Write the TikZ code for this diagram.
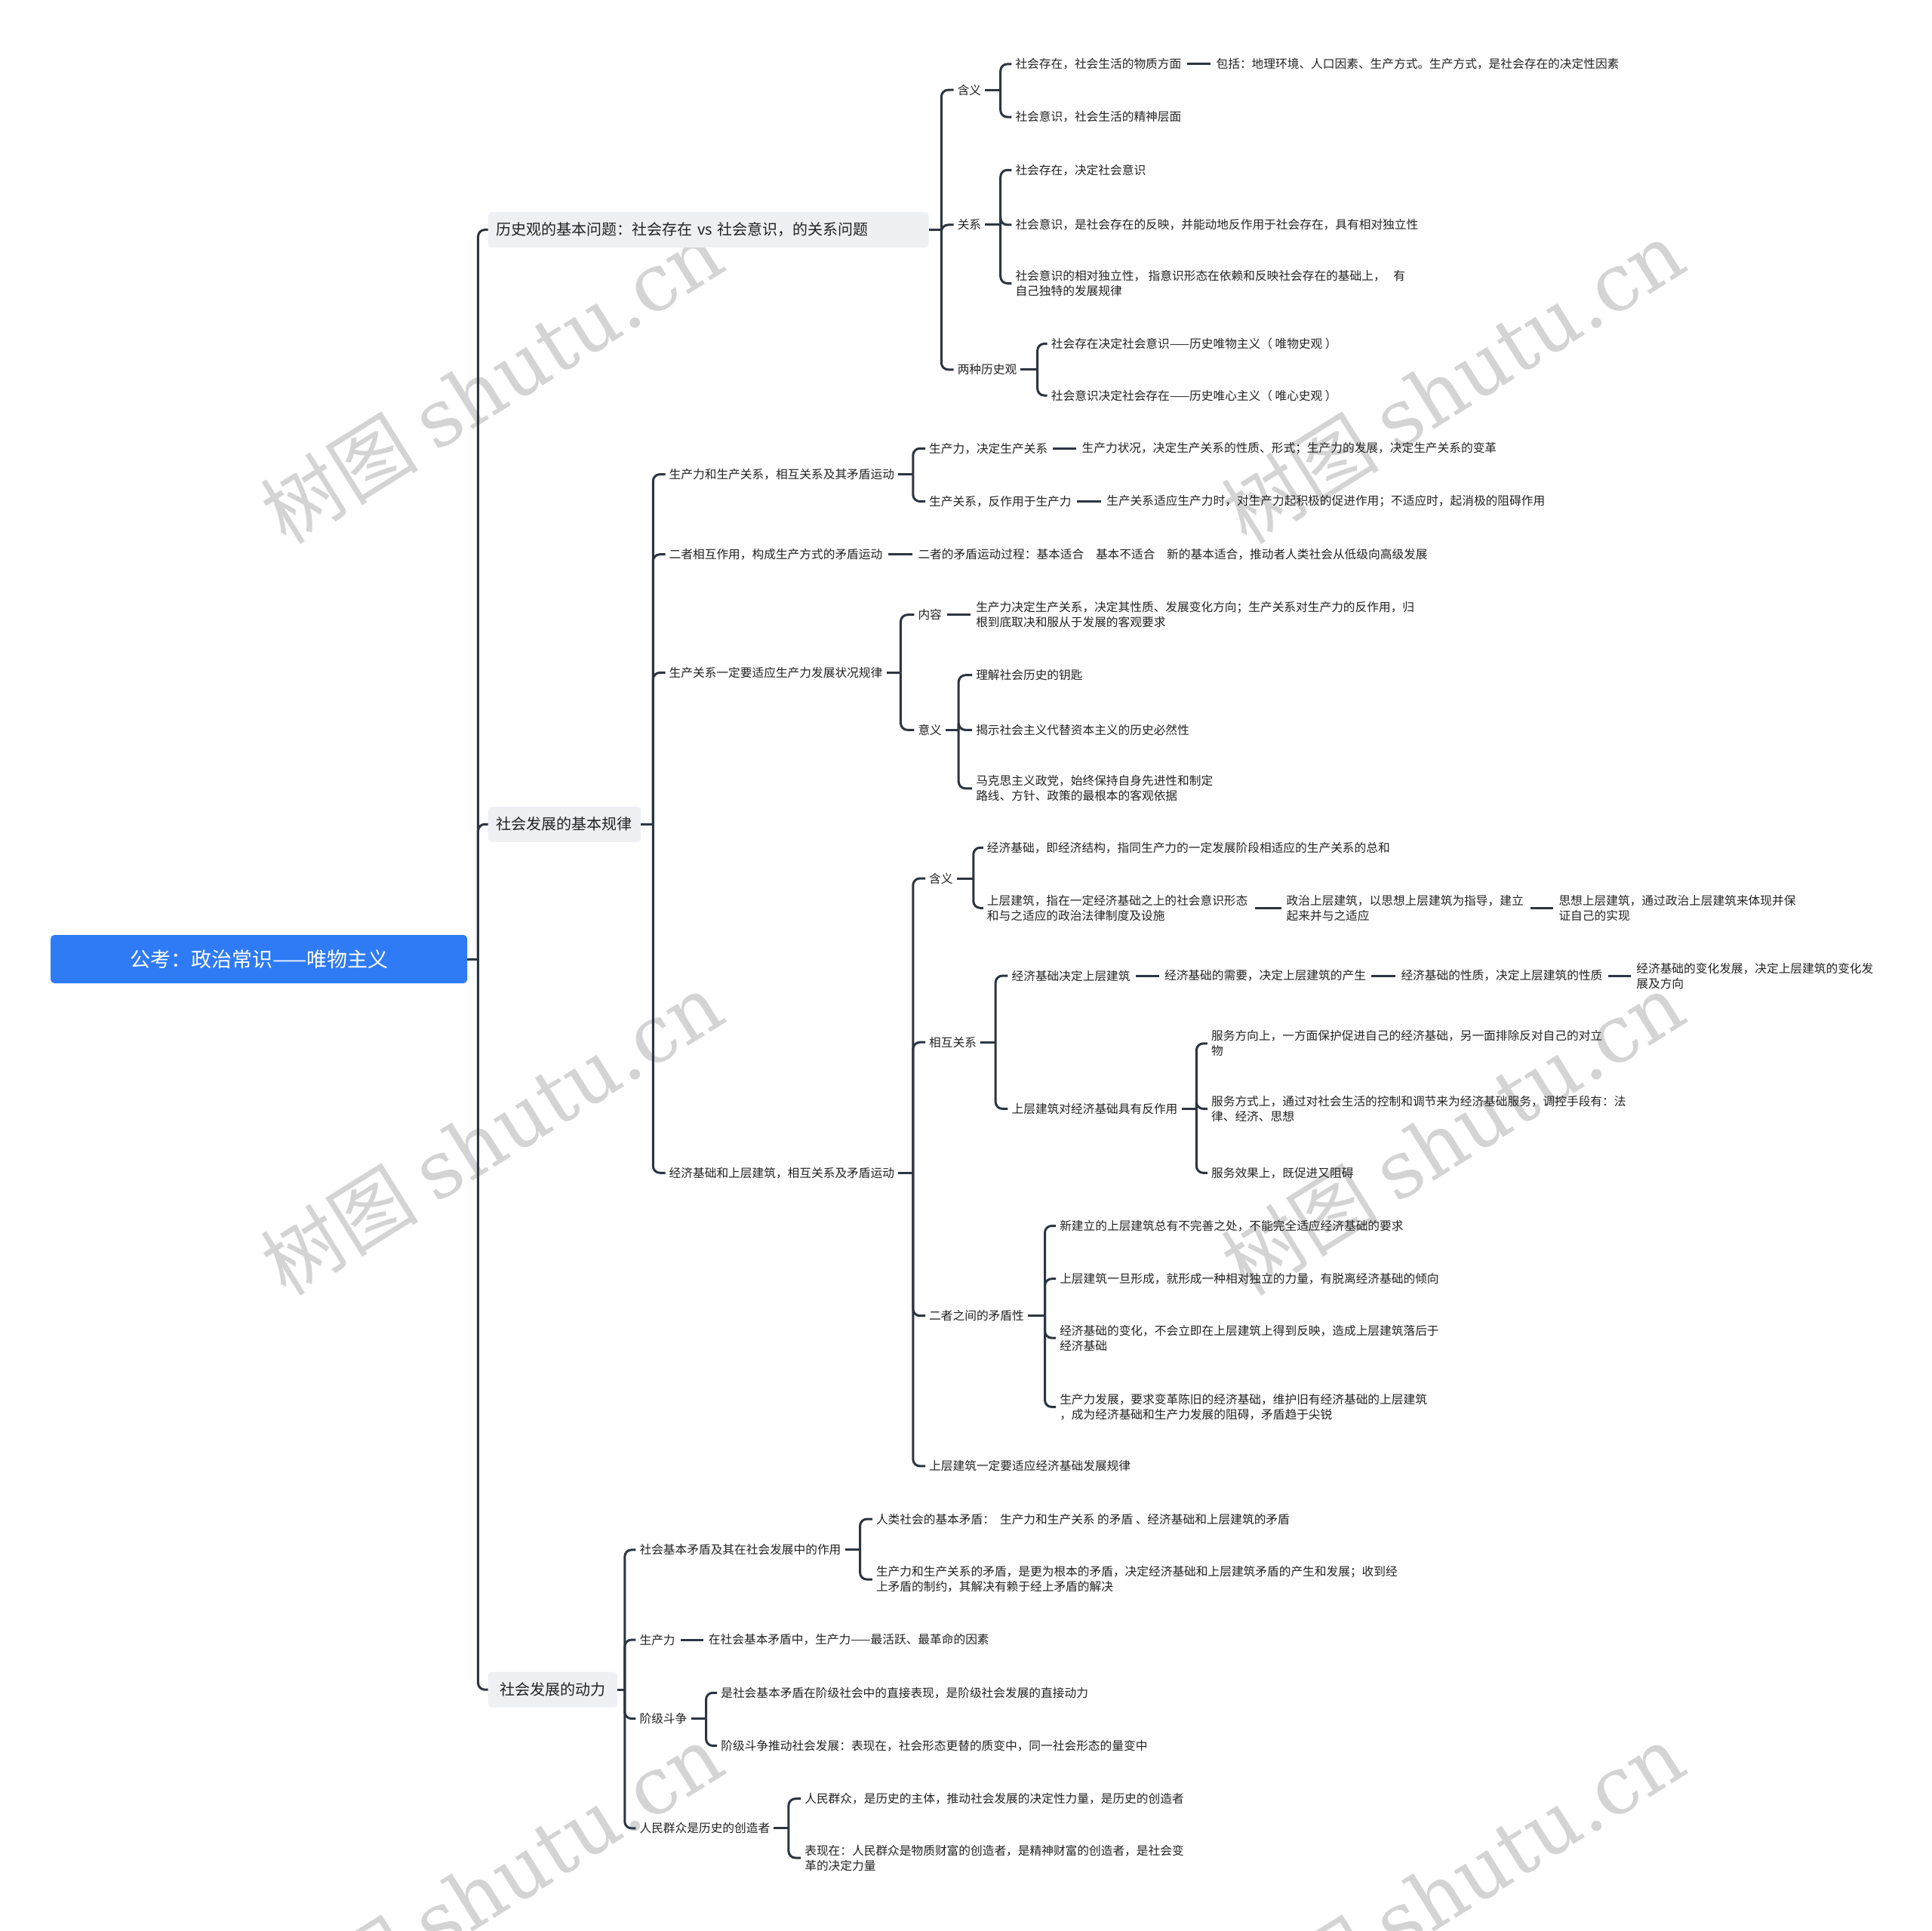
\documentclass[tikz,border=0pt]{standalone}
\usepackage{fontspec}
\setmainfont{Noto Sans CJK SC}
\newfontfamily\wmlatin{DejaVu Serif}
\definecolor{linec}{HTML}{2C3542}
\definecolor{boxg}{HTML}{EEF0F4}
\definecolor{rootb}{HTML}{2F7BF6}
\definecolor{txtc}{HTML}{222222}
\definecolor{wmc}{HTML}{D4D4D4}
\begin{document}
\begin{tikzpicture}[x=1.6327pt,y=-1.6327pt,
  conn/.style={draw=linec,line width=3pt,rounded corners=9pt},
  link/.style={draw=linec,line width=3pt},
  leaf/.style={anchor=west,inner sep=0pt,align=left,text=txtc,font=\fontsize{15.7pt}{20pt}\selectfont},
  lvone/.style={anchor=west,fill=boxg,rounded corners=6pt,inner xsep=11pt,inner ysep=0pt,minimum height=47pt,text=txtc,font=\fontsize{20pt}{24pt}\selectfont},
  wm/.style={text=wmc,rotate=32,inner sep=0pt,font=\fontsize{105pt}{110pt}\selectfont}]
\useasboundingbox (0,0) rectangle (1568,1567);
\fill[white] (0,0) rectangle (1568,1567);

% watermarks
\node[wm] (wm1) at (399,310) {树图 {\wmlatin shutu.cn}};
\node[wm] (wm2) at (1179,310) {树图 {\wmlatin shutu.cn}};
\node[wm] (wm3) at (399,920) {树图 {\wmlatin shutu.cn}};
\node[wm] (wm4) at (1179,920) {树图 {\wmlatin shutu.cn}};
\node[wm] (wm5) at (399,1530) {树图 {\wmlatin shutu.cn}};
\node[wm] (wm6) at (1179,1530) {树图 {\wmlatin shutu.cn}};

% root
\node[anchor=west,fill=rootb,text=white,rounded corners=5pt,minimum width=552pt,minimum height=64pt,inner sep=0pt,font=\fontsize{27pt}{30pt}\selectfont] (root) at (41,778.5) {公考：政治常识——唯物主义};

% level one
\node[lvone,text width=562pt,align=left] (b1) at (396,186.5) {历史观的基本问题：社会存在 vs 社会意识，的关系问题};
\node[lvone,minimum width=202.5pt] (b2) at (396,669) {社会发展的基本规律};
\node[lvone,minimum width=171.5pt] (b3) at (396,1371.5) {社会发展的动力};

\coordinate (jroot) at (388,778.5);
\draw[link] (root.east) -- (jroot);
\draw[conn] (jroot) |- (b1.west);
\draw[conn] (jroot) |- (b2.west);
\draw[conn] (jroot) |- (b3.west);

% ===== B1 =====
\node[leaf] (hy) at (777,73) {含义};
\node[leaf] (gx) at (777,182.5) {关系};
\node[leaf] (lz) at (777,300) {两种历史观};
\coordinate (jb1) at (764,186.5);
\draw[link] (b1.east) -- (jb1);
\foreach \c in {hy,gx,lz} \draw[conn] (jb1) |- ([xshift=-5pt]\c.west);

\node[leaf] (hy1) at (824,52) {社会存在，社会生活的物质方面};
\node[leaf] (hy1a) at (987,52) {包括：地理环境、人口因素、生产方式。生产方式，是社会存在的决定性因素};
\node[leaf] (hy2) at (824,95) {社会意识，社会生活的精神层面};
\coordinate (jhy) at (812,73);
\draw[link] ([xshift=5pt]hy.east) -- (jhy);
\foreach \c in {hy1,hy2} \draw[conn] (jhy) |- ([xshift=-5pt]\c.west);
\draw[link] ([xshift=7pt]hy1.east) -- ([xshift=-7pt]hy1a.west);

\node[leaf] (gx1) at (824,138) {社会存在，决定社会意识};
\node[leaf] (gx2) at (824,182.5) {社会意识，是社会存在的反映，并能动地反作用于社会存在，具有相对独立性};
\node[leaf] (gx3) at (824,230) {社会意识的相对独立性，\ 指意识形态在依赖和反映社会存在的基础上，\ \ \ 有\\自己独特的发展规律};
\coordinate (jgx) at (812,182.5);
\draw[link] ([xshift=5pt]gx.east) -- (jgx);
\foreach \c in {gx1,gx2,gx3} \draw[conn] (jgx) |- ([xshift=-5pt]\c.west);

\node[leaf] (lz1) at (853,279) {社会存在决定社会意识——历史唯物主义（ 唯物史观 ）};
\node[leaf] (lz2) at (853,321) {社会意识决定社会存在——历史唯心主义（ 唯心史观 ）};
\coordinate (jlz) at (842,300);
\draw[link] ([xshift=5pt]lz.east) -- (jlz);
\foreach \c in {lz1,lz2} \draw[conn] (jlz) |- ([xshift=-5pt]\c.west);

% ===== B2 =====
\node[leaf] (g1) at (543,385) {生产力和生产关系，相互关系及其矛盾运动};
\node[leaf] (g2) at (543,450) {二者相互作用，构成生产方式的矛盾运动};
\node[leaf] (g3) at (543,546) {生产关系一定要适应生产力发展状况规律};
\node[leaf] (g4) at (543,952) {经济基础和上层建筑，相互关系及矛盾运动};
\coordinate (jb2) at (530,669);
\draw[link] (b2.east) -- (jb2);
\foreach \c in {g1,g2,g3,g4} \draw[conn] (jb2) |- ([xshift=-5pt]\c.west);

% g1
\node[leaf] (g11) at (754,364) {生产力，决定生产关系};
\node[leaf] (g11a) at (878,364) {生产力状况，决定生产关系的性质、形式；生产力的发展，决定生产关系的变革};
\node[leaf] (g12) at (754,407) {生产关系，反作用于生产力};
\node[leaf] (g12a) at (898,407) {生产关系适应生产力时，对生产力起积极的促进作用；不适应时，起消极的阻碍作用};
\coordinate (jg1) at (741,385);
\draw[link] ([xshift=5pt]g1.east) -- (jg1);
\foreach \c in {g11,g12} \draw[conn] (jg1) |- ([xshift=-5pt]\c.west);
\draw[link] ([xshift=7pt]g11.east) -- ([xshift=-7pt]g11a.west);
\draw[link] ([xshift=7pt]g12.east) -- ([xshift=-7pt]g12a.west);

% g2
\node[leaf] (g2a) at (745,450) {二者的矛盾运动过程：基本适合　基本不适合　新的基本适合，推动者人类社会从低级向高级发展};
\draw[link] ([xshift=7pt]g2.east) -- ([xshift=-7pt]g2a.west);

% g3
\node[leaf] (nr) at (745,499) {内容};
\node[leaf] (nra) at (792,499) {生产力决定生产关系，决定其性质、发展变化方向；生产关系对生产力的反作用，归\\根到底取决和服从于发展的客观要求};
\node[leaf] (yy) at (745,592.5) {意义};
\coordinate (jg3) at (731,546);
\draw[link] ([xshift=5pt]g3.east) -- (jg3);
\foreach \c in {nr,yy} \draw[conn] (jg3) |- ([xshift=-5pt]\c.west);
\draw[link] ([xshift=7pt]nr.east) -- ([xshift=-7pt]nra.west);
\node[leaf] (yy1) at (792,548) {理解社会历史的钥匙};
\node[leaf] (yy2) at (792,592.5) {揭示社会主义代替资本主义的历史必然性};
\node[leaf] (yy3) at (792,640) {马克思主义政党，始终保持自身先进性和制定\\路线、方针、政策的最根本的客观依据};
\coordinate (jyy) at (778,592.5);
\draw[link] ([xshift=5pt]yy.east) -- (jyy);
\foreach \c in {yy1,yy2,yy3} \draw[conn] (jyy) |- ([xshift=-5pt]\c.west);

% g4
\node[leaf] (e1) at (754,713) {含义};
\node[leaf] (e2) at (754,846) {相互关系};
\node[leaf] (e3) at (754,1068) {二者之间的矛盾性};
\node[leaf] (e4) at (754,1190) {上层建筑一定要适应经济基础发展规律};
\coordinate (jg4) at (741,952);
\draw[link] ([xshift=5pt]g4.east) -- (jg4);
\foreach \c in {e1,e2,e3,e4} \draw[conn] (jg4) |- ([xshift=-5pt]\c.west);

% e1
\node[leaf] (e11) at (801,688) {经济基础，即经济结构，指同生产力的一定发展阶段相适应的生产关系的总和};
\node[leaf] (e12) at (801,737) {上层建筑，指在一定经济基础之上的社会意识形态\\和与之适应的政治法律制度及设施};
\node[leaf] (e12a) at (1044,737) {政治上层建筑，以思想上层建筑为指导，建立\\起来并与之适应};
\node[leaf] (e12b) at (1265,737) {思想上层建筑，通过政治上层建筑来体现并保\\证自己的实现};
\coordinate (je1) at (790,713);
\draw[link] ([xshift=5pt]e1.east) -- (je1);
\foreach \c in {e11,e12} \draw[conn] (je1) |- ([xshift=-5pt]\c.west);
\draw[link] ([xshift=9pt]e12.east) -- ([xshift=-7pt]e12a.west);
\draw[link] ([xshift=9pt]e12a.east) -- ([xshift=-7pt]e12b.west);

% e2
\node[leaf] (e21) at (821,792) {经济基础决定上层建筑};
\node[leaf] (e21a) at (945,792) {经济基础的需要，决定上层建筑的产生};
\node[leaf] (e21b) at (1137,792) {经济基础的性质，决定上层建筑的性质};
\node[leaf] (e21c) at (1328,792) {经济基础的变化发展，决定上层建筑的变化发\\展及方向};
\node[leaf] (e22) at (821,900) {上层建筑对经济基础具有反作用};
\coordinate (je2) at (808,846);
\draw[link] ([xshift=5pt]e2.east) -- (je2);
\foreach \c in {e21,e22} \draw[conn] (je2) |- ([xshift=-5pt]\c.west);
\draw[link] ([xshift=7pt]e21.east) -- ([xshift=-7pt]e21a.west);
\draw[link] ([xshift=7pt]e21a.east) -- ([xshift=-7pt]e21b.west);
\draw[link] ([xshift=7pt]e21b.east) -- ([xshift=-7pt]e21c.west);
\node[leaf] (e221) at (983,847) {服务方向上，一方面保护促进自己的经济基础，另一面排除反对自己的对立\\物};
\node[leaf] (e222) at (983,900) {服务方式上，通过对社会生活的控制和调节来为经济基础服务，调控手段有：法\\律、经济、思想};
\node[leaf] (e223) at (983,952) {服务效果上，既促进又阻碍};
\coordinate (je22) at (971,900);
\draw[link] ([xshift=5pt]e22.east) -- (je22);
\foreach \c in {e221,e222,e223} \draw[conn] (je22) |- ([xshift=-5pt]\c.west);

% e3
\node[leaf] (e31) at (860,995) {新建立的上层建筑总有不完善之处，不能完全适应经济基础的要求};
\node[leaf] (e32) at (860,1038) {上层建筑一旦形成，就形成一种相对独立的力量，有脱离经济基础的倾向};
\node[leaf] (e33) at (860,1086) {经济基础的变化，不会立即在上层建筑上得到反映，造成上层建筑落后于\\经济基础};
\node[leaf] (e34) at (860,1142) {生产力发展，要求变革陈旧的经济基础，维护旧有经济基础的上层建筑\\，成为经济基础和生产力发展的阻碍，矛盾趋于尖锐};
\coordinate (je3) at (848,1068);
\draw[link] ([xshift=5pt]e3.east) -- (je3);
\foreach \c in {e31,e32,e33,e34} \draw[conn] (je3) |- ([xshift=-5pt]\c.west);

% ===== B3 =====
\node[leaf] (d1) at (519,1258) {社会基本矛盾及其在社会发展中的作用};
\node[leaf] (d2) at (519,1331) {生产力};
\node[leaf] (d3) at (519,1395) {阶级斗争};
\node[leaf] (d4) at (519,1484) {人民群众是历史的创造者};
\coordinate (jb3) at (507,1371.5);
\draw[link] (b3.east) -- (jb3);
\foreach \c in {d1,d2,d3,d4} \draw[conn] (jb3) |- ([xshift=-5pt]\c.west);

\node[leaf] (d11) at (711,1233) {人类社会的基本矛盾：\ \ 生产力和生产关系 的矛盾 、经济基础和上层建筑的矛盾};
\node[leaf] (d12) at (711,1282) {生产力和生产关系的矛盾，是更为根本的矛盾，决定经济基础和上层建筑矛盾的产生和发展；收到经\\上矛盾的制约，其解决有赖于经上矛盾的解决};
\coordinate (jd1) at (698,1258);
\draw[link] ([xshift=5pt]d1.east) -- (jd1);
\foreach \c in {d11,d12} \draw[conn] (jd1) |- ([xshift=-5pt]\c.west);

\node[leaf] (d2a) at (575,1331) {在社会基本矛盾中，生产力——最活跃、最革命的因素};
\draw[link] ([xshift=7pt]d2.east) -- ([xshift=-7pt]d2a.west);

\node[leaf] (d31) at (585,1374) {是社会基本矛盾在阶级社会中的直接表现，是阶级社会发展的直接动力};
\node[leaf] (d32) at (585,1417) {阶级斗争推动社会发展：表现在，社会形态更替的质变中，同一社会形态的量变中};
\coordinate (jd3) at (573,1395);
\draw[link] ([xshift=5pt]d3.east) -- (jd3);
\foreach \c in {d31,d32} \draw[conn] (jd3) |- ([xshift=-5pt]\c.west);

\node[leaf] (d41) at (653,1460) {人民群众，是历史的主体，推动社会发展的决定性力量，是历史的创造者};
\node[leaf] (d42) at (653,1508) {表现在：人民群众是物质财富的创造者，是精神财富的创造者，是社会变\\革的决定力量};
\coordinate (jd4) at (640,1484);
\draw[link] ([xshift=5pt]d4.east) -- (jd4);
\foreach \c in {d41,d42} \draw[conn] (jd4) |- ([xshift=-5pt]\c.west);
\end{tikzpicture}
\end{document}
